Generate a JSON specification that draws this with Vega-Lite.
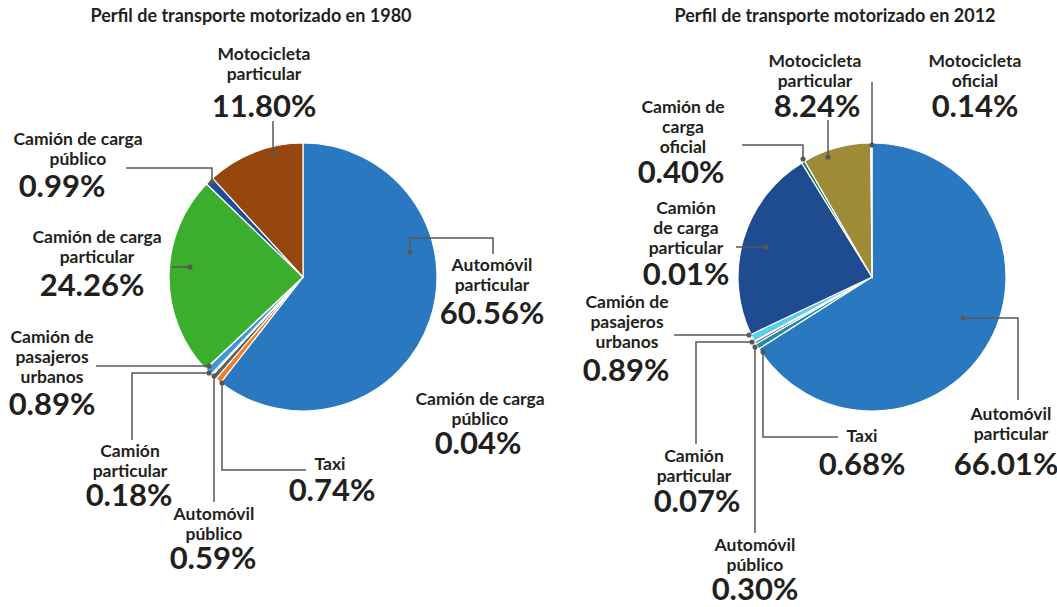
{
  "$schema": "https://vega.github.io/schema/vega-lite/v6.json",
  "width": 1057,
  "height": 607,
  "autosize": "none",
  "padding": 0,
  "background": "#ffffff",
  "config": {"view": {"stroke": null}, "font": "Lato"},
  "datasets": {
    "slices": [
      {"year": 1980, "id": "1980-1", "order": 1, "name": "Automóvil particular", "value": 60.56},
      {"year": 1980, "id": "1980-2", "order": 2, "name": "Taxi", "value": 0.74},
      {"year": 1980, "id": "1980-3", "order": 3, "name": "Automóvil público", "value": 0.59},
      {"year": 1980, "id": "1980-4", "order": 4, "name": "Camión particular", "value": 0.18},
      {"year": 1980, "id": "1980-5", "order": 5, "name": "Camión de pasajeros urbanos", "value": 0.89},
      {"year": 1980, "id": "1980-6", "order": 6, "name": "Camión de carga público", "value": 0.04},
      {"year": 1980, "id": "1980-7", "order": 7, "name": "Camión de carga particular", "value": 24.26},
      {"year": 1980, "id": "1980-8", "order": 8, "name": "Camión de carga público", "value": 0.99},
      {"year": 1980, "id": "1980-9", "order": 9, "name": "Motocicleta particular", "value": 11.80},
      {"year": 2012, "id": "2012-1", "order": 1, "name": "Automóvil particular", "value": 66.01},
      {"year": 2012, "id": "2012-2", "order": 2, "name": "Taxi", "value": 0.68},
      {"year": 2012, "id": "2012-3", "order": 3, "name": "Automóvil público", "value": 0.30},
      {"year": 2012, "id": "2012-4", "order": 4, "name": "Camión particular", "value": 0.07},
      {"year": 2012, "id": "2012-5", "order": 5, "name": "Camión de pasajeros urbanos", "value": 0.89},
      {"year": 2012, "id": "2012-6", "order": 6, "name": "Camión de carga particular", "value": 23.27},
      {"year": 2012, "id": "2012-7", "order": 7, "name": "Camión de carga oficial", "value": 0.40},
      {"year": 2012, "id": "2012-8", "order": 8, "name": "Motocicleta particular", "value": 8.24},
      {"year": 2012, "id": "2012-9", "order": 9, "name": "Motocicleta oficial", "value": 0.14}
    ],
    "labels": [
      {"year": 1980, "name": "Motocicleta\nparticular", "pct": "11.80%", "nx": 264, "ny": 46, "px": 264, "py": 117},
      {"year": 1980, "name": "Camión de carga\npúblico", "pct": "0.99%", "nx": 78, "ny": 131, "px": 62, "py": 197},
      {"year": 1980, "name": "Camión de carga\nparticular", "pct": "24.26%", "nx": 97, "ny": 229, "px": 92, "py": 296},
      {"year": 1980, "name": "Camión de\npasajeros\nurbanos", "pct": "0.89%", "nx": 52, "ny": 329, "px": 52, "py": 415},
      {"year": 1980, "name": "Camión\nparticular", "pct": "0.18%", "nx": 130, "ny": 443, "px": 129, "py": 506},
      {"year": 1980, "name": "Automóvil\npúblico", "pct": "0.59%", "nx": 214, "ny": 506, "px": 213, "py": 569},
      {"year": 1980, "name": "Taxi", "pct": "0.74%", "nx": 330, "ny": 456, "px": 332, "py": 501},
      {"year": 1980, "name": "Camión de carga\npúblico", "pct": "0.04%", "nx": 480, "ny": 391, "px": 478, "py": 454},
      {"year": 1980, "name": "Automóvil\nparticular", "pct": "60.56%", "nx": 492, "ny": 257, "px": 492, "py": 324},
      {"year": 2012, "name": "Motocicleta\nparticular", "pct": "8.24%", "nx": 815, "ny": 53, "px": 817, "py": 117},
      {"year": 2012, "name": "Motocicleta\noficial", "pct": "0.14%", "nx": 975, "ny": 53, "px": 975, "py": 117},
      {"year": 2012, "name": "Camión de\ncarga\noficial", "pct": "0.40%", "nx": 683, "ny": 99, "px": 681, "py": 183},
      {"year": 2012, "name": "Camión\nde carga\nparticular", "pct": "0.01%", "nx": 686, "ny": 200, "px": 686, "py": 285},
      {"year": 2012, "name": "Camión de\npasajeros\nurbanos", "pct": "0.89%", "nx": 627, "ny": 294, "px": 626, "py": 381},
      {"year": 2012, "name": "Camión\nparticular", "pct": "0.07%", "nx": 694, "ny": 448, "px": 697, "py": 512},
      {"year": 2012, "name": "Automóvil\npúblico", "pct": "0.30%", "nx": 755, "ny": 537, "px": 755, "py": 600},
      {"year": 2012, "name": "Taxi", "pct": "0.68%", "nx": 862, "ny": 428, "px": 862, "py": 475},
      {"year": 2012, "name": "Automóvil\nparticular", "pct": "66.01%", "nx": 1011, "ny": 406, "px": 1006, "py": 475}
    ],
    "leaders": [
      {"id": "a1", "i": 0, "x": 273, "y": 154}, {"id": "a1", "i": 1, "x": 273, "y": 121},
      {"id": "a2", "i": 0, "x": 212, "y": 182}, {"id": "a2", "i": 1, "x": 212, "y": 168}, {"id": "a2", "i": 2, "x": 126, "y": 168},
      {"id": "a3", "i": 0, "x": 190, "y": 267}, {"id": "a3", "i": 1, "x": 172, "y": 267},
      {"id": "a4", "i": 0, "x": 209, "y": 366}, {"id": "a4", "i": 1, "x": 96, "y": 366},
      {"id": "a5", "i": 0, "x": 209, "y": 373}, {"id": "a5", "i": 1, "x": 132, "y": 373}, {"id": "a5", "i": 2, "x": 132, "y": 440},
      {"id": "a6", "i": 0, "x": 214, "y": 376}, {"id": "a6", "i": 1, "x": 214, "y": 502},
      {"id": "a7", "i": 0, "x": 222, "y": 383}, {"id": "a7", "i": 1, "x": 222, "y": 470}, {"id": "a7", "i": 2, "x": 306, "y": 470},
      {"id": "a8", "i": 0, "x": 410, "y": 252}, {"id": "a8", "i": 1, "x": 410, "y": 238}, {"id": "a8", "i": 2, "x": 493, "y": 238}, {"id": "a8", "i": 3, "x": 493, "y": 254},
      {"id": "b1", "i": 0, "x": 872, "y": 145}, {"id": "b1", "i": 1, "x": 872, "y": 82},
      {"id": "b2", "i": 0, "x": 828, "y": 157}, {"id": "b2", "i": 1, "x": 828, "y": 120},
      {"id": "b3", "i": 0, "x": 803, "y": 159}, {"id": "b3", "i": 1, "x": 803, "y": 145}, {"id": "b3", "i": 2, "x": 742, "y": 145},
      {"id": "b4", "i": 0, "x": 766, "y": 247}, {"id": "b4", "i": 1, "x": 736, "y": 247},
      {"id": "b5", "i": 0, "x": 749, "y": 335}, {"id": "b5", "i": 1, "x": 674, "y": 335},
      {"id": "b6", "i": 0, "x": 752, "y": 342}, {"id": "b6", "i": 1, "x": 696, "y": 342}, {"id": "b6", "i": 2, "x": 696, "y": 444},
      {"id": "b7", "i": 0, "x": 755, "y": 347}, {"id": "b7", "i": 1, "x": 755, "y": 533},
      {"id": "b8", "i": 0, "x": 763, "y": 352}, {"id": "b8", "i": 1, "x": 763, "y": 437}, {"id": "b8", "i": 2, "x": 838, "y": 437},
      {"id": "b9", "i": 0, "x": 963, "y": 318}, {"id": "b9", "i": 1, "x": 1018, "y": 318}, {"id": "b9", "i": 2, "x": 1018, "y": 400}
    ],
    "titles": [
      {"text": "Perfil de transporte motorizado en 1980", "x": 251, "y": 17},
      {"text": "Perfil de transporte motorizado en 2012", "x": 835, "y": 17}
    ]
  },
  "layer": [
    {
      "data": {"name": "slices"},
      "transform": [
        {"stack": "value", "groupby": ["year"], "offset": "normalize", "sort": [{"field": "order", "order": "ascending"}], "as": ["t0", "t1"]}
      ],
      "mark": {"type": "arc", "outerRadius": 134, "stroke": "#ffffff", "strokeWidth": 1.2},
      "encoding": {
        "theta": {"field": "t0", "type": "quantitative", "stack": null, "scale": {"domain": [0, 1]}},
        "theta2": {"field": "t1"},
        "x": {"field": "year", "type": "quantitative", "scale": {"domain": [1980, 2012], "range": [303, 872], "zero": false, "nice": false}, "axis": null},
        "y": {"field": "year", "type": "quantitative", "scale": {"domain": [1980, 2012], "range": [277, 277], "zero": false, "nice": false}, "axis": null},
        "color": {
          "field": "id", "type": "nominal", "legend": null,
          "scale": {
            "domain": ["1980-1", "1980-2", "1980-3", "1980-4", "1980-5", "1980-6", "1980-7", "1980-8", "1980-9",
                       "2012-1", "2012-2", "2012-3", "2012-4", "2012-5", "2012-6", "2012-7", "2012-8", "2012-9"],
            "range": ["#2A78BF", "#F57C22", "#5E5E5E", "#8A8A8A", "#3E97D6", "#7ED6C6", "#3BAE2E", "#1F4E97", "#95470D",
                      "#2A78BF", "#1B8EA6", "#7B2B8F", "#4A12A8", "#5ACFEA", "#1F4C90", "#067A4E", "#9E8B37", "#C5D1F3"]
          }
        }
      }
    },
    {
      "layer": [
        {
          "data": {"name": "leaders"},
          "mark": {"type": "line", "color": "#575757", "strokeWidth": 1.5},
          "encoding": {
            "x": {"field": "x", "type": "quantitative", "scale": {"domain": [0, 1057], "range": [0, 1057], "zero": false, "nice": false}, "axis": null},
            "y": {"field": "y", "type": "quantitative", "scale": {"domain": [0, 607], "range": [0, 607], "zero": false, "nice": false}, "axis": null},
            "detail": {"field": "id", "type": "nominal"},
            "order": {"field": "i", "type": "quantitative"}
          }
        },
        {
          "data": {"name": "leaders"},
          "transform": [{"filter": "datum.i == 0"}],
          "mark": {"type": "point", "filled": true, "color": "#575757", "size": 26, "opacity": 1},
          "encoding": {
            "x": {"field": "x", "type": "quantitative", "scale": {"domain": [0, 1057], "range": [0, 1057], "zero": false, "nice": false}, "axis": null},
            "y": {"field": "y", "type": "quantitative", "scale": {"domain": [0, 607], "range": [0, 607], "zero": false, "nice": false}, "axis": null}
          }
        },
        {
          "data": {"name": "labels"},
          "mark": {"type": "text", "font": "Lato", "fontWeight": "bold", "fontSize": 17.5, "lineHeight": 20, "lineBreak": "\n", "baseline": "top", "align": "center", "color": "#231F20"},
          "encoding": {
            "x": {"field": "nx", "type": "quantitative", "scale": {"domain": [0, 1057], "range": [0, 1057], "zero": false, "nice": false}, "axis": null},
            "y": {"field": "ny", "type": "quantitative", "scale": {"domain": [0, 607], "range": [0, 607], "zero": false, "nice": false}, "axis": null},
            "text": {"field": "name", "type": "nominal"}
          }
        },
        {
          "data": {"name": "labels"},
          "mark": {"type": "text", "font": "Lato", "fontWeight": "bold", "fontSize": 31, "baseline": "alphabetic", "align": "center", "color": "#231F20"},
          "encoding": {
            "x": {"field": "px", "type": "quantitative", "scale": {"domain": [0, 1057], "range": [0, 1057], "zero": false, "nice": false}, "axis": null},
            "y": {"field": "py", "type": "quantitative", "scale": {"domain": [0, 607], "range": [0, 607], "zero": false, "nice": false}, "axis": null},
            "text": {"field": "pct", "type": "nominal"}
          }
        },
        {
          "data": {"name": "titles"},
          "mark": {"type": "text", "font": "Lato", "fontWeight": "bold", "fontSize": 18, "baseline": "middle", "align": "center", "color": "#231F20"},
          "encoding": {
            "x": {"field": "x", "type": "quantitative", "scale": {"domain": [0, 1057], "range": [0, 1057], "zero": false, "nice": false}, "axis": null},
            "y": {"field": "y", "type": "quantitative", "scale": {"domain": [0, 607], "range": [0, 607], "zero": false, "nice": false}, "axis": null},
            "text": {"field": "text", "type": "nominal"}
          }
        }
      ]
    }
  ],
  "resolve": {"scale": {"x": "independent", "y": "independent"}}
}
